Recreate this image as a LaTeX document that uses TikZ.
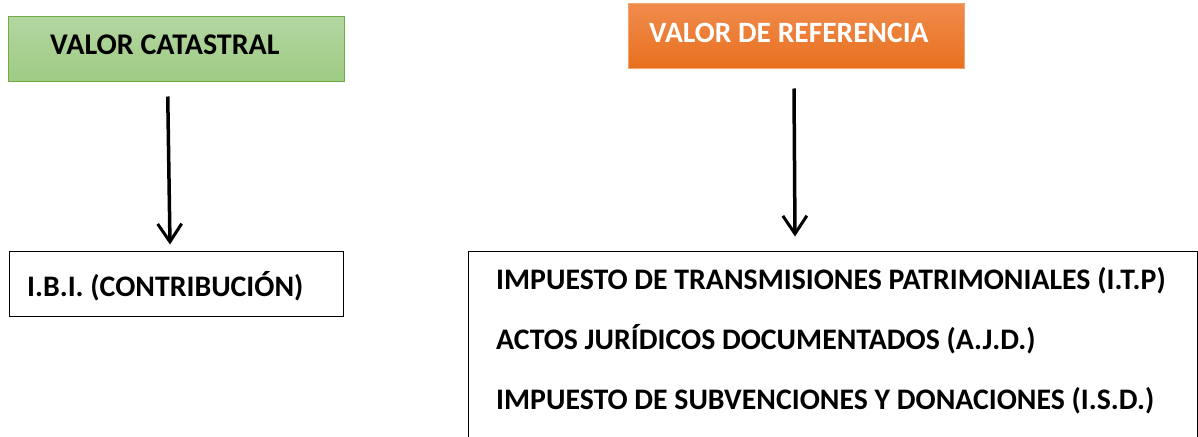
\documentclass[tikz,border=0pt]{standalone}
\usepackage{fontspec}
\setmainfont{Carlito}
\usetikzlibrary{arrows.meta}
\definecolor{gtop}{HTML}{B3D6A2}
\definecolor{gbot}{HTML}{9FCB83}
\definecolor{gborder}{HTML}{71AD47}
\definecolor{otop}{HTML}{F08B4C}
\definecolor{obot}{HTML}{E8701F}
\definecolor{oborder}{HTML}{F4A46E}
\tikzset{
  headbox/.style={rectangle, inner sep=0pt, line width=1pt},
  plainbox/.style={rectangle, draw=black, line width=1pt, inner sep=0pt},
  lbl/.style={anchor=base west, inner sep=0pt, font=\bfseries\fontsize{29.8}{34}\selectfont},
  tlbl/.style={anchor=base west, inner sep=0pt, font=\bfseries\fontsize{30}{34}\selectfont},
  bigarrow/.style={line width=3.5pt, -{Straight Barb[length=18pt,width=24pt,line width=3pt]}}
}
\begin{document}
\begin{tikzpicture}[x=1pt,y=-1pt]
\useasboundingbox (0,0) rectangle (1198,436);
\clip (0,0) rectangle (1198,436);
% heads
\node[headbox, draw=gborder, top color=gtop, bottom color=gbot, minimum width=335.5pt, minimum height=64.3pt] (green) at (176.25,48.85) {};
\node[headbox, draw=oborder, top color=otop, bottom color=obot, minimum width=336pt, minimum height=64.5pt] (orange) at (796,36.25) {};
\node[tlbl] (tgreen) at (50,55) {VALOR CATASTRAL};
\node[tlbl, text=white, font=\bfseries\fontsize{29.5}{34}\selectfont] (torange) at (649,42) {VALOR DE REFERENCIA};
% boxes
\node[plainbox, minimum width=334pt, minimum height=64.3pt] (ibi) at (176.3,283.85) {};
\node[lbl] (tibi) at (27,296) {I.B.I. (CONTRIBUCIÓN)};
\node[plainbox, minimum width=729pt, minimum height=230pt] (big) at (832.5,366) {};
\node[lbl] (t1) at (496,289) {IMPUESTO DE TRANSMISIONES PATRIMONIALES (I.T.P)};
\node[lbl] (t2) at (496,349) {ACTOS JURÍDICOS DOCUMENTADOS (A.J.D.)};
\node[lbl] (t3) at (496,409) {IMPUESTO DE SUBVENCIONES Y DONACIONES (I.S.D.)};
% arrows
\draw[bigarrow] ([xshift=-8.5pt,yshift=-15pt]green.south) -- ([xshift=-6.3pt,yshift=6.7pt]ibi.north);
\draw[bigarrow] ([xshift=-2pt,yshift=-19.5pt]orange.south) -- ([xshift=-37.5pt,yshift=14pt]big.north);
\end{tikzpicture}
\end{document}
